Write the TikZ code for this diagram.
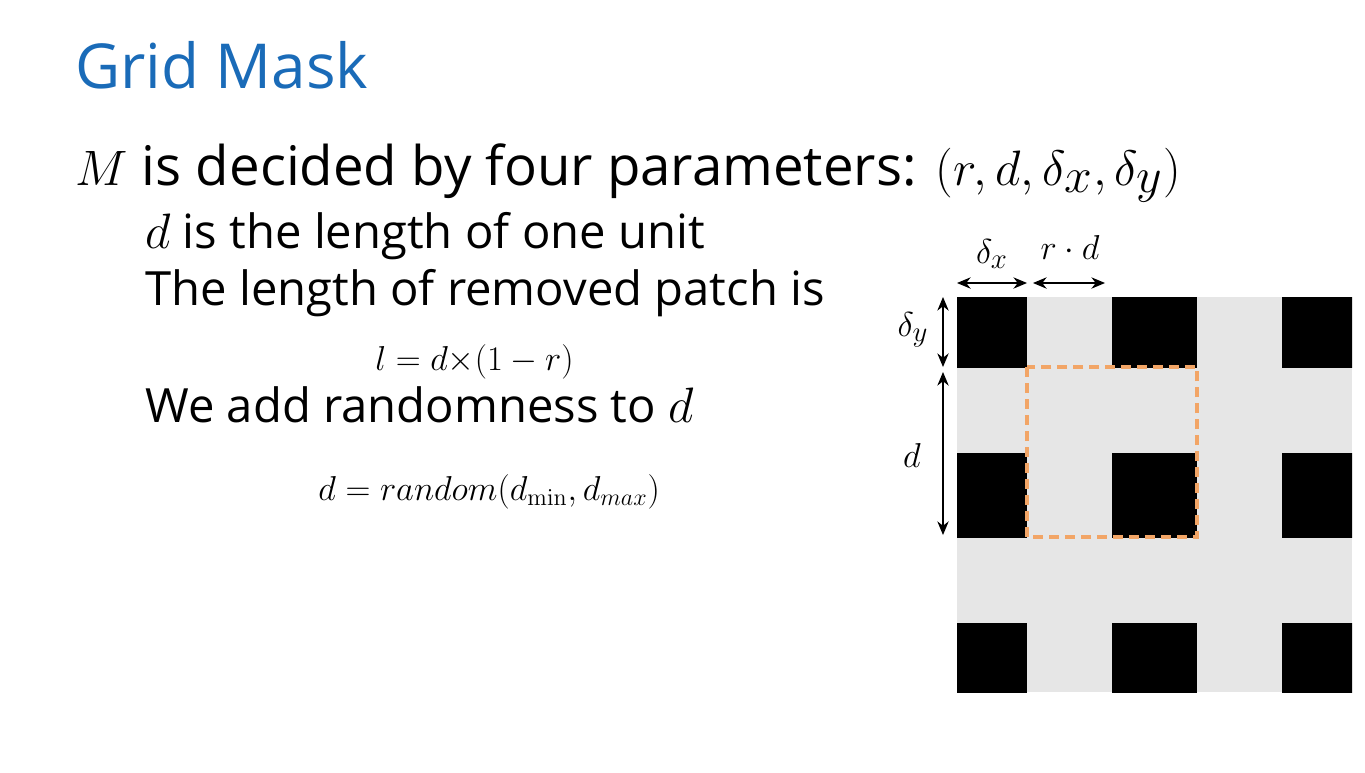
\documentclass[tikz,border=0pt]{standalone}
\usepackage[no-math]{fontspec}
\setmainfont{Open Sans}
\usetikzlibrary{arrows.meta}
\usepackage{xcolor}
\definecolor{titleBlue}{HTML}{1A6BB8}
\definecolor{maskGray}{HTML}{E6E6E6}
\definecolor{patchOrange}{HTML}{F2A566}
\tikzset{
  base/.style={text=black, inner sep=0pt, anchor=base west},
  title/.style={base, text=titleBlue, font=\fontsize{31}{37}\selectfont},
  lead/.style={base, font=\fontsize{27.3}{32}\selectfont},
  item/.style={base, font=\fontsize{23.6}{28}\selectfont},
  formula/.style={base, font=\fontsize{18.6}{22}\selectfont},
  dimlabel/.style={inner sep=0pt, font=\fontsize{19}{22}\selectfont},
  dimarrow/.style={{Stealth[length=2.4mm,width=2mm]}-{Stealth[length=2.4mm,width=2mm]}, line width=0.6pt},
  patch/.style={draw=patchOrange, dash pattern=on 5pt off 3pt, line width=1.6pt},
}

\begin{document}
\begin{tikzpicture}[x=0.5pt,y=-0.5pt]
  \useasboundingbox (0,0) rectangle (1365,772);

  \node[title] (head) at (75,88) {Grid Mask};
  \node[lead] (params) at (75,185) {$M$ is decided by four parameters: {\fontsize{33.5}{38}\selectfont$(r,d,\delta_x,\delta_y)$}};
  \node[item] (unit) at (145,248) {$d$ is the length of one unit};
  \node[item] (patchlen) at (145,305) {The length of removed patch is};
  \node[formula] (lform) at (375,370) {$l=d{\times}(1-r)$};
  \node[item] (rand) at (145,422) {We add randomness to $d$};
  \node[formula] (dform) at (318,500) {$d=random(d_{\min},d_{max})$};

  % mask
  \begin{scope}
    \clip (957,297) rectangle (1352,692);
    \fill[maskGray] (957,297) rectangle (1352,692);
    \foreach \i in {0,1,2}
      \foreach \j in {0,1,2}
        \fill[black] (942+170*\i,283+170*\j) rectangle ++(85,85);
  \end{scope}
  \draw[patch] (1027,367) rectangle (1197,537);

  % dimensions
  \coordinate (dxa) at (957,283);
  \coordinate (dxb) at (1027,283);
  \coordinate (rda) at (1033,283);
  \coordinate (rdb) at (1105,283);
  \coordinate (dya) at (943,297);
  \coordinate (dyb) at (943,367);
  \coordinate (dda) at (943,372);
  \coordinate (ddb) at (943,535);
  \draw[dimarrow] (dxa) -- (dxb);
  \draw[dimarrow] (rda) -- (rdb);
  \draw[dimarrow] (dya) -- (dyb);
  \draw[dimarrow] (dda) -- (ddb);
  \node[dimlabel] (ldx) at (992,254) {$\delta_x$};
  \node[dimlabel] (lrd) at (1070,247) {$r\cdot d$};
  \node[dimlabel] (ldy) at (913,330) {$\delta_y$};
  \node[dimlabel] (ld) at (912,455) {$d$};
\end{tikzpicture}
\end{document}
